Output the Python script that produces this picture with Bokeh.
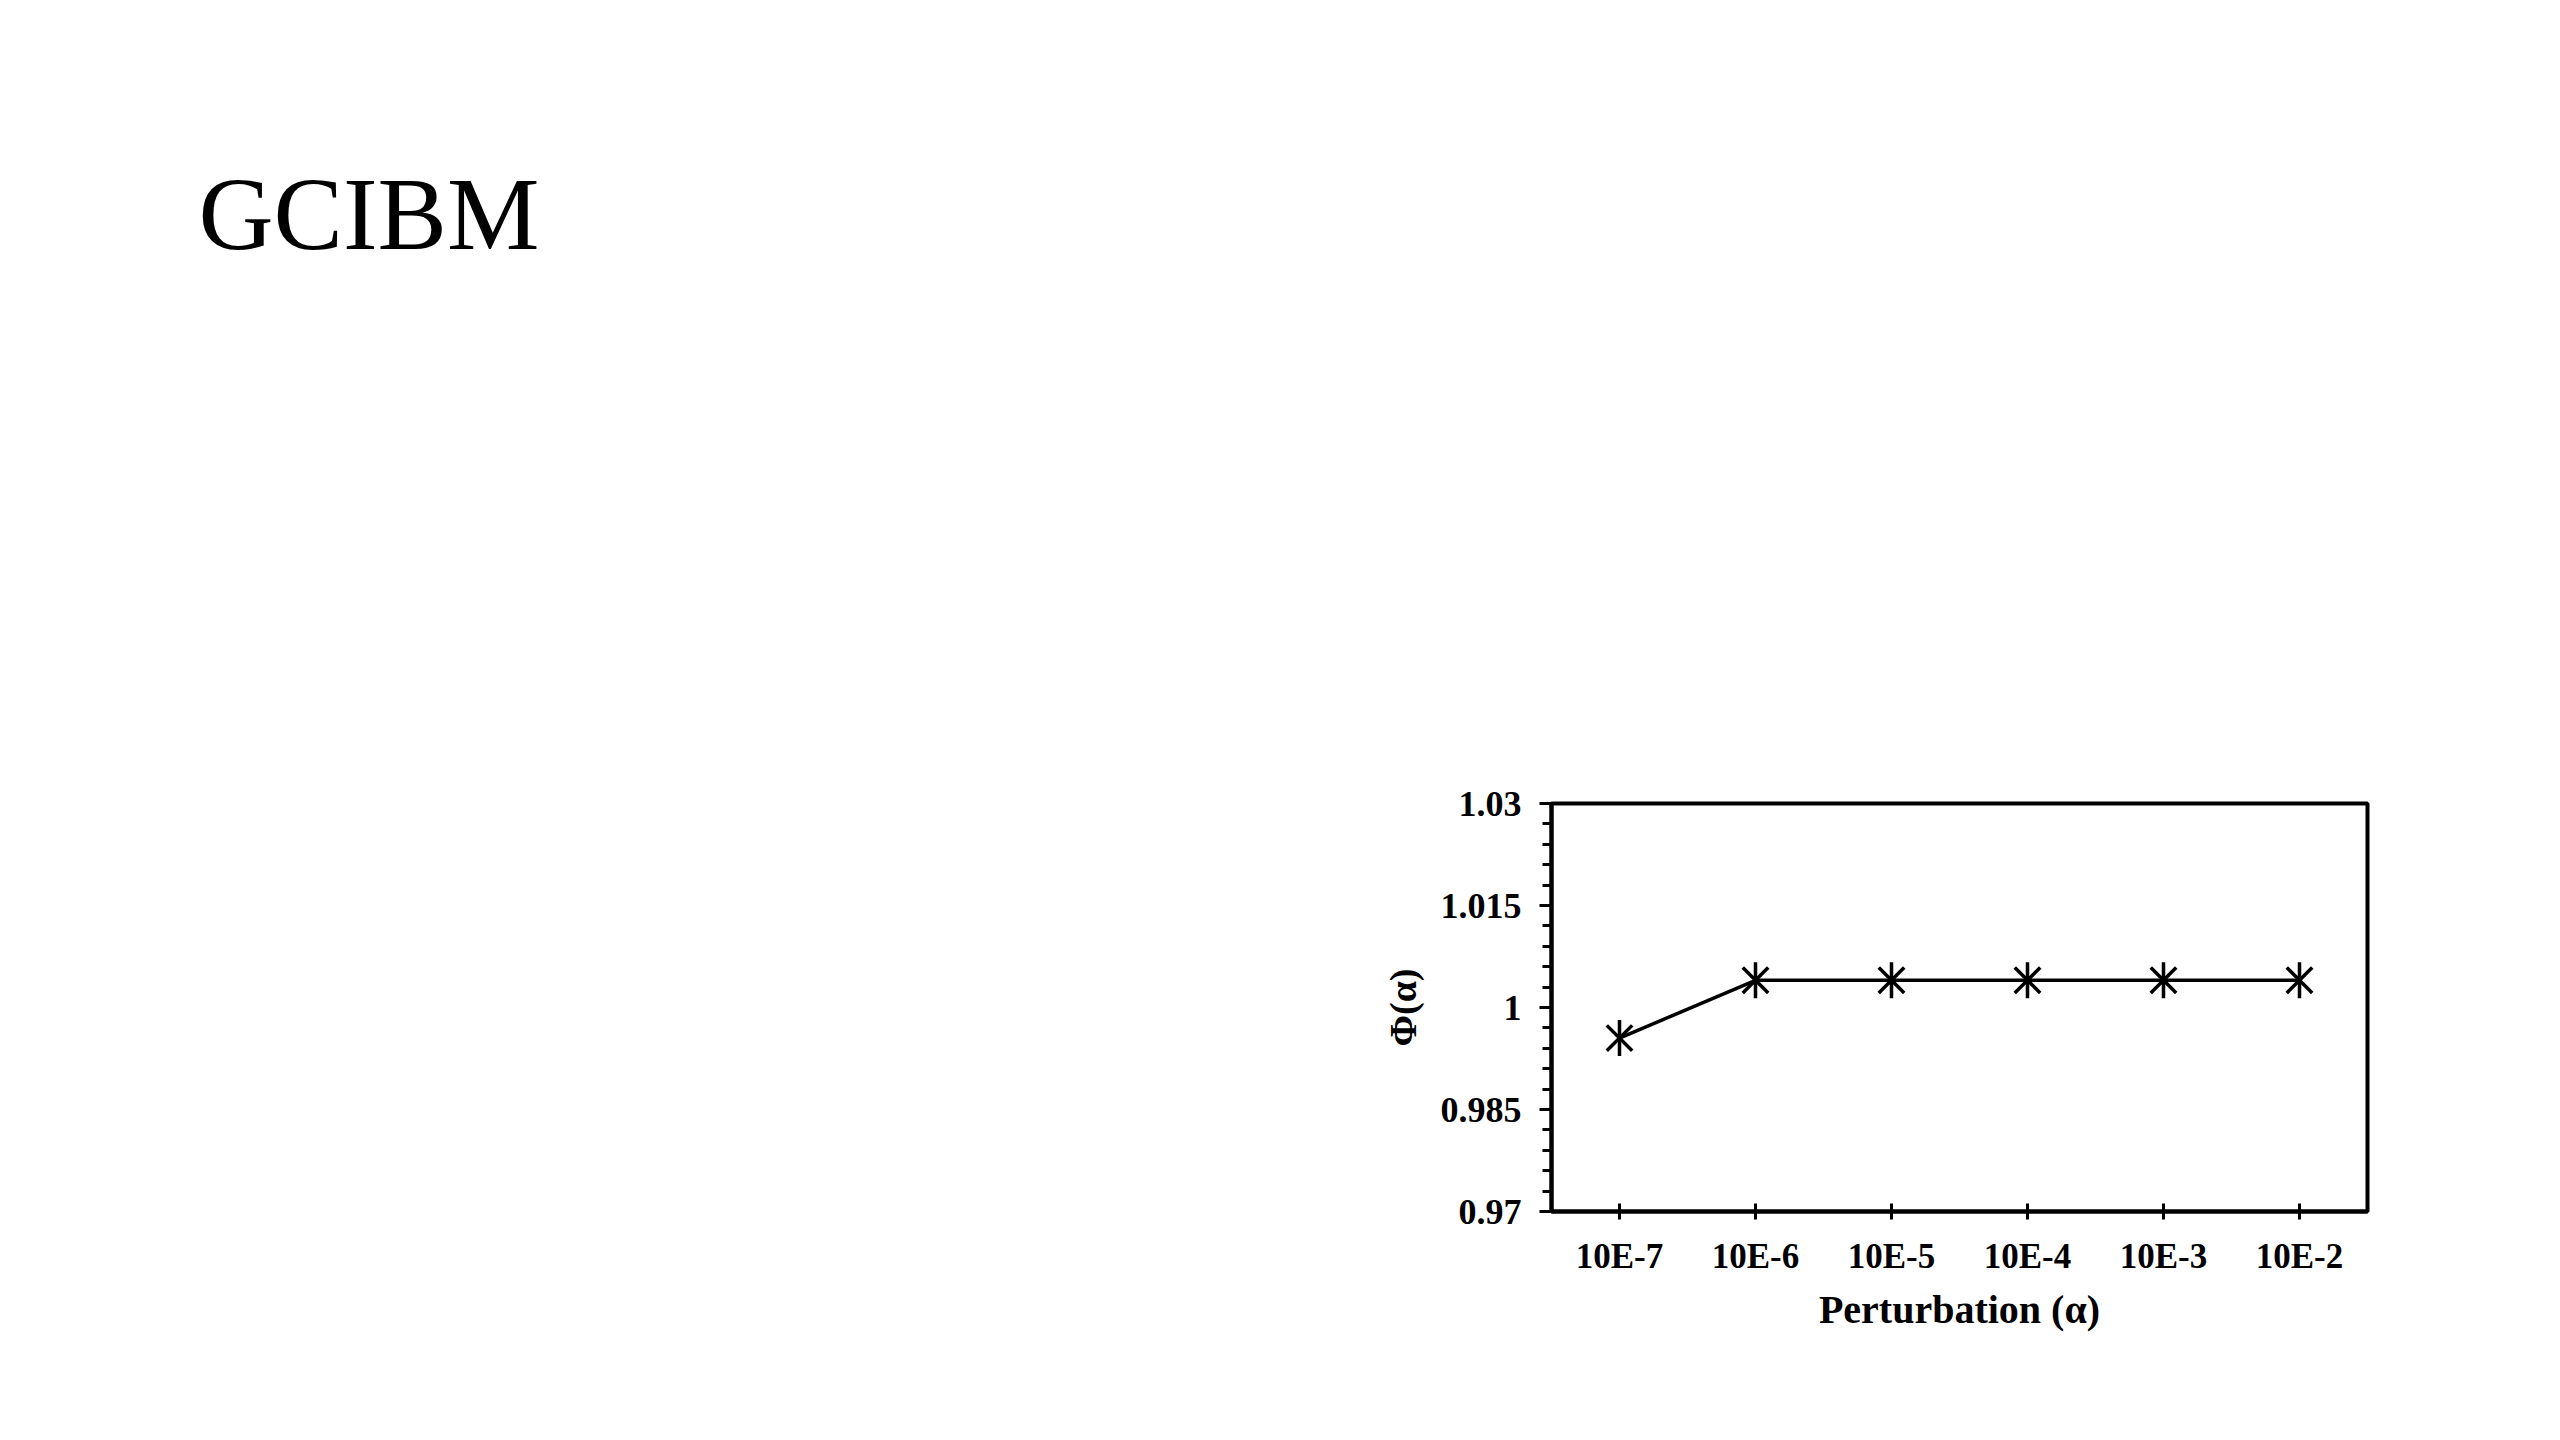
import numpy as np
from bokeh.plotting import figure
from bokeh.layouts import column
from bokeh.models import FactorRange, Range1d, FixedTicker, CustomJSTickFormatter
from bokeh.embed import file_html
from bokeh.resources import INLINE

# ---- data ----
categories = ["10E-7", "10E-6", "10E-5", "10E-4", "10E-3", "10E-2"]
phi = [0.9955, 1.004, 1.004, 1.004, 1.004, 1.004]
y_ticks = [0.97, 0.985, 1.0, 1.015, 1.03]
y_minor_ticks = [round(0.97 + 0.003 * i, 4) for i in range(21)]
title_text = "GCIBM"
x_label = "Perturbation (α)"
y_label = "Φ(α)"

SERIF = "Liberation Serif"
HEADER_H = 400

# ---- header (slide title) ----
head = figure(
    width=2544, height=HEADER_H, output_backend="svg", toolbar_location=None,
    min_border_left=0, min_border_right=0, min_border_bottom=0, min_border_top=275,
    x_range=Range1d(0, 1), y_range=Range1d(0, 1), title=title_text,
    background_fill_color="white", border_fill_color="white",
)
head.axis.visible = False
head.grid.visible = False
head.outline_line_color = None
head.title.align = "left"
head.title.offset = -1353
head.title.text_font = SERIF
head.title.text_font_style = "normal"
head.title.text_font_size = "104px"
head.title.text_color = "black"

# ---- chart ----
p = figure(
    width=2544, height=1424 - HEADER_H,
    x_range=FactorRange(factors=categories),
    y_range=Range1d(0.97, 1.03),
    output_backend="svg", toolbar_location=None,
    min_border_left=1551, min_border_top=803 - HEADER_H,
    min_border_right=177, min_border_bottom=213,
    background_fill_color="white", border_fill_color="white",
)
p.xgrid.visible = False
p.ygrid.visible = False
p.outline_line_color = "black"
p.outline_line_width = 4
p.outline_line_alpha = 1

p.line(categories, phi, line_color="black", line_width=3.5)
p.scatter(categories, phi, marker="x", size=36, line_color="black", line_width=3.5)
p.scatter(categories, phi, marker="dash", angle=np.pi / 2, size=36, line_color="black", line_width=3.5)

# x axis
xa = p.xaxis[0]
xa.axis_line_width = 4
xa.major_tick_line_width = 3
xa.major_tick_in = 8
xa.major_tick_out = 8
xa.major_label_standoff = 17
xa.major_label_text_font = SERIF
xa.major_label_text_font_style = "bold"
xa.major_label_text_font_size = "35px"
xa.major_label_text_color = "black"
xa.axis_label = x_label
xa.axis_label_text_font = SERIF
xa.axis_label_text_font_style = "bold"
xa.axis_label_text_font_size = "40px"
xa.axis_label_text_color = "black"
xa.axis_label_standoff = 8

# y axis
ya = p.yaxis[0]
ya.ticker = FixedTicker(ticks=y_ticks, minor_ticks=y_minor_ticks)
ya.formatter = CustomJSTickFormatter(code="return String(Math.round(tick*1000)/1000);")
ya.axis_line_width = 4
ya.major_tick_line_width = 3
ya.minor_tick_line_width = 3
ya.major_tick_in = 0
ya.major_tick_out = 12
ya.minor_tick_in = 0
ya.minor_tick_out = 9
ya.major_label_standoff = 18
ya.major_label_text_font = SERIF
ya.major_label_text_font_style = "bold"
ya.major_label_text_font_size = "36px"
ya.major_label_text_color = "black"
ya.axis_label = y_label
ya.axis_label_text_font = SERIF
ya.axis_label_text_font_style = "bold"
ya.axis_label_text_font_size = "38px"
ya.axis_label_text_color = "black"
ya.axis_label_standoff = 14

layout = column(head, p, spacing=0)
open("out.html", "w").write(file_html(layout, INLINE))
